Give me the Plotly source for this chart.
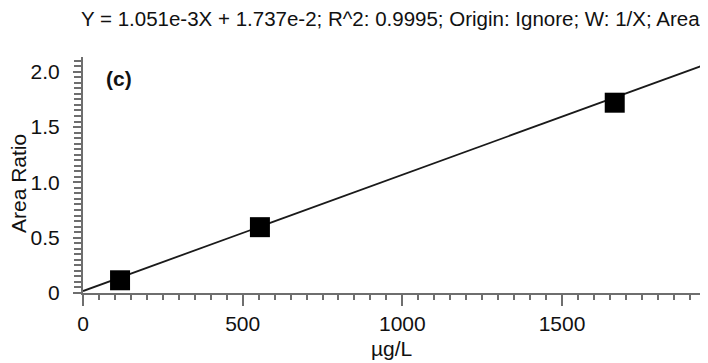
import plotly.graph_objects as go

conc = [116, 554, 1665]
area_ratio = [0.115, 0.595, 1.72]
slope = 1.051e-3
intercept = 1.737e-2
line_x = [0, 1935]
x_ticks = [0, 500, 1000, 1500]
y_ticks = [0, 0.5, 1.0, 1.5, 2.0]
y_tick_text = ["0", "0.5", "1.0", "1.5", "2.0"]
title = "Y = 1.051e-3X + 1.737e-2; R^2: 0.9995; Origin: Ignore; W: 1/X; Area"

line_y = [slope * x + intercept for x in line_x]

# the page body adds an 8px offset; layout numbers below are figure pixels
W, H = 708, 363
L, R, T, B = 75, 16, 49, 78
pw, ph = W - L - R, H - T - B


def px(x):
    return (x - L) / pw


def py(y):
    return (H - B - y) / ph


fig = go.Figure()
fig.add_trace(go.Scatter(x=line_x, y=line_y, mode="lines",
                         line=dict(color="#1a1a1a", width=1.8), hoverinfo="skip"))
fig.add_trace(go.Scatter(x=conc, y=area_ratio, mode="markers",
                         marker=dict(symbol="square", size=20, color="black")))

axcol = "#6e6e6e"
font = "Liberation Sans, Arial, sans-serif"
fig.update_layout(
    width=W, height=H,
    margin=dict(l=L, r=R, t=T, b=B, autoexpand=False),
    paper_bgcolor="white", plot_bgcolor="white",
    showlegend=False,
    font=dict(family=font, color="#111", size=21),
    annotations=[
        dict(text=title, x=px(694), y=py(10), xref="paper", yref="paper",
             xanchor="right", yanchor="middle", showarrow=False,
             font=dict(size=20.5)),
        dict(text="<b>(c)</b>", x=px(96), y=py(70), xref="paper", yref="paper",
             xanchor="left", yanchor="middle", showarrow=False,
             font=dict(size=21)),
        dict(text="µg/L", x=0.5, y=py(340), xref="paper", yref="paper",
             xanchor="center", yanchor="middle", showarrow=False,
             font=dict(size=21)),
        dict(text="Area Ratio", x=px(10), y=py(176), xref="paper", yref="paper",
             xanchor="center", yanchor="middle", showarrow=False, textangle=-90,
             font=dict(size=21)),
    ],
)

fig.update_xaxes(range=[0, 1932], tickvals=x_ticks, ticks="outside", ticklen=11,
                 tickwidth=1.5, tickcolor=axcol, showline=True, linecolor=axcol,
                 linewidth=2, showgrid=False, zeroline=False, automargin=False,
                 minor=dict(dtick=50, tick0=0, ticks="outside", ticklen=5,
                            tickwidth=1.5, tickcolor=axcol),
                 tickfont=dict(size=21))
fig.update_yaxes(range=[0, 2.133], tickvals=y_ticks, ticktext=y_tick_text,
                 ticks="outside", ticklen=8, tickwidth=1.5, tickcolor=axcol,
                 showline=True, linecolor=axcol, linewidth=2, showgrid=False,
                 zeroline=False, automargin=False, ticklabelstandoff=9,
                 minor=dict(dtick=0.05, tick0=0, ticks="outside", ticklen=7,
                            tickwidth=1.5, tickcolor=axcol),
                 tickfont=dict(size=21))

fig.write_html("out.html")
